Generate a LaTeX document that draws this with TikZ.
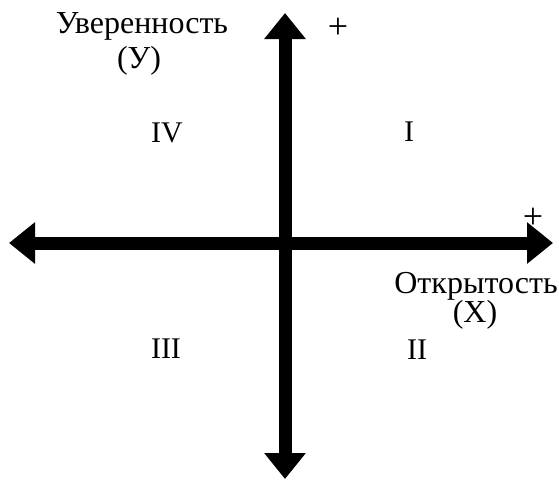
\documentclass[tikz,border=0pt]{standalone}
\usepackage{fontspec}
\setmainfont{Liberation Serif}
\usetikzlibrary{arrows.meta}

\begin{document}
\begin{tikzpicture}[x=1pt, y=-1pt,
    axis/.style={line width=13pt, {Triangle[width=40pt,length=26pt]}-{Triangle[width=40pt,length=26pt]}},
    axislabel/.style={font=\fontsize{32}{36}\selectfont, inner sep=0pt, anchor=base},
    quadrant/.style={font=\fontsize{30}{34}\selectfont, inner sep=0pt, anchor=base},
    plus/.style={font=\fontsize{36}{40}\selectfont, inner sep=0pt}]

  % ================= frame =================
  \useasboundingbox (0,0) rectangle (559,482);

  % ================= axes =================
  \coordinate (L) at (9,243);     % left end
  \coordinate (R) at (553,243);   % right end
  \coordinate (T) at (285,13);    % top end
  \coordinate (B) at (285,479);   % bottom end

  \draw[axis] (L) -- (R);
  \draw[axis] (B) -- (T);

  % ================= axis captions =================
  \node[axislabel] (ylab)  at (142,33)  {Уверенность};
  \node[axislabel] (ylab2) at (139,68)  {(У)};
  \node[axislabel] (xlab)  at (476,293) {Открытость};
  \node[axislabel] (xlab2) at (475,322) {(X)};

  % ================= plus signs =================
  \node[plus] (yplus) at (338,28)  {+};
  \node[plus] (xplus) at (533,218) {+};

  % ================= quadrants =================
  \node[quadrant] (q1) at (409,141) {I};
  \node[quadrant] (q2) at (417,359) {II};
  \node[quadrant] (q3) at (166,358) {III};
  \node[quadrant] (q4) at (167,142) {IV};

\end{tikzpicture}
\end{document}
